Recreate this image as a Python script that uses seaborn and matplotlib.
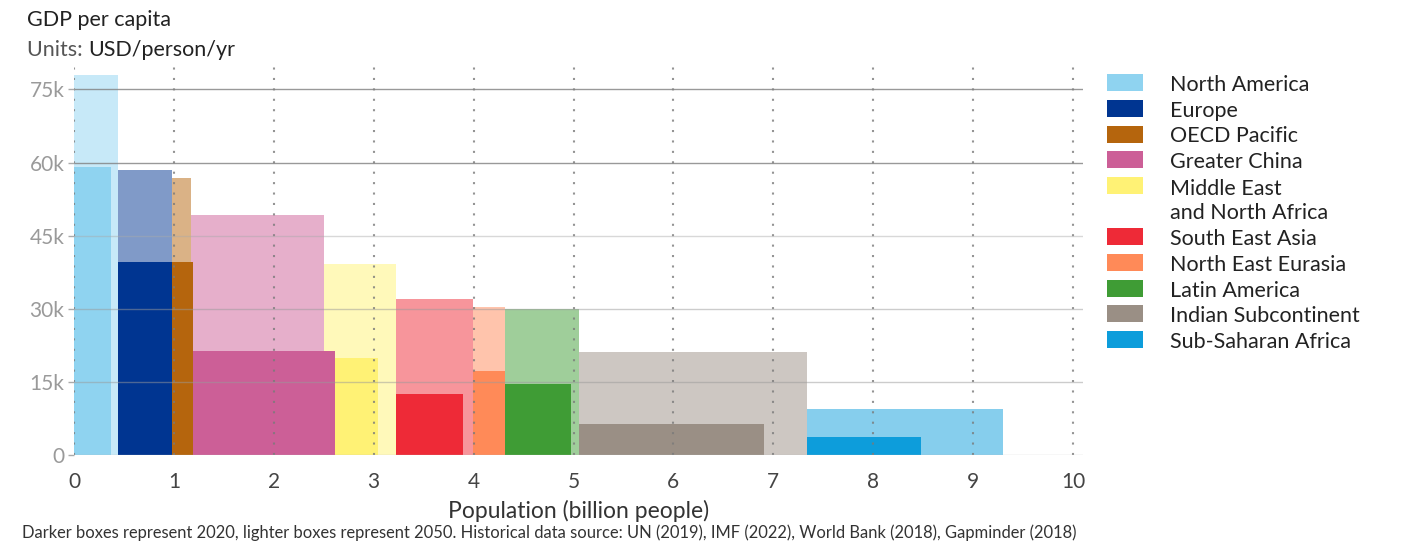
import numpy as np
import pandas as pd
import matplotlib
matplotlib.use("Agg")
import matplotlib.pyplot as plt
import seaborn as sns
from matplotlib.patches import Rectangle
from matplotlib.colors import to_rgb

# ---------------- data ----------------
regions = ["North America", "Europe", "OECD Pacific", "Greater China",
           "Middle East\nand North Africa", "South East Asia", "North East Eurasia",
           "Latin America", "Indian Subcontinent", "Sub-Saharan Africa"]
pop_2020 = [0.37, 0.545, 0.21, 1.44, 0.54, 0.67, 0.32, 0.66, 1.85, 1.14]      # billion people
pop_2050 = [0.44, 0.54, 0.19, 1.33, 0.72, 0.77, 0.32, 0.75, 2.28, 1.96]
gdp_2020 = [59.0, 39.6, 39.6, 21.4, 19.8, 12.6, 17.3, 14.5, 6.35, 3.6]         # kUSD/person/yr
gdp_2050 = [77.9, 58.4, 56.9, 49.3, 39.1, 32.1, 30.3, 29.9, 21.2, 9.4]
colors = ["#8FD3F0", "#003591", "#B5650D", "#CC5F97", "#FFF275",
          "#EE2A37", "#FF8A58", "#3F9C35", "#9A8F85", "#0D9DDB"]
yticks = [0, 15, 30, 45, 60, 75]
ytick_labels = ["0", "15k", "30k", "45k", "60k", "75k"]
xticks = list(range(0, 11))

def lighten(c, a=0.5):
    r, g, b = to_rgb(c)
    return (1 - a + a * r, 1 - a + a * g, 1 - a + a * b)

starts = np.concatenate([[0], np.cumsum(pop_2050)[:-1]])

# ---------------- figure ----------------
sns.set_theme(style="white")
plt.rcParams["font.family"] = ["Lato", "DejaVu Sans"]

W, H = 1402, 544
fig = plt.figure(figsize=(W / 100, H / 100), dpi=100)
ax = fig.add_axes([74 / W, 1 - 455 / H, (1083 - 74) / W, (455 - 66) / H])

# 2050 (lighter) boxes
for i in range(len(regions)):
    s, w = starts[i], pop_2050[i]
    sns.histplot(x=[s + w / 2], weights=[gdp_2050[i]], bins=[s, s + w],
                 color=lighten(colors[i]), alpha=1, linewidth=0, edgecolor="none",
                 ax=ax, zorder=1)
# 2020 (darker) boxes, drawn in reverse so earlier regions sit on top
for i in reversed(range(len(regions))):
    s, w = starts[i], pop_2020[i]
    sns.histplot(x=[s + w / 2], weights=[gdp_2020[i]], bins=[s, s + w],
                 color=colors[i], alpha=1, linewidth=0, edgecolor="none",
                 ax=ax, zorder=1.5)

ax.set_xlim(0, 10.1)
ax.set_ylim(0, 79.8)
ax.set_xticks(xticks)
ax.set_xticklabels([str(t) for t in xticks], fontsize=15, color="#444444")
ax.set_yticks(yticks)
ax.set_yticklabels(ytick_labels, fontsize=15, color="#9a9a9a")
ax.tick_params(axis="y", length=4, width=1, color="#aaaaaa", pad=3, left=True)
ax.tick_params(axis="x", length=0, pad=12)
for sp in ax.spines.values():
    sp.set_visible(False)
ax.set_axisbelow(False)
ax.yaxis.grid(True, color="#8c8c8c", linewidth=1, alpha=0.55, zorder=3)
ax.xaxis.grid(True, color="#7a7a7a", linewidth=1.5, linestyle=(0, (1, 4)), alpha=0.8, zorder=3)
grid_styles = {0: ("#bbbbbb", 0.6), 15: ("#9a9a9a", 0.5), 30: ("#9a9a9a", 0.5),
               45: ("#aaaaaa", 0.45), 60: ("#808080", 0.8), 75: ("#808080", 0.8)}
for tv, gl in zip(yticks, ax.get_ygridlines()):
    c, a = grid_styles[tv]
    gl.set_color(c)
    gl.set_alpha(a)
ax.set_xlabel("Population (billion people)", fontsize=16.5, color="#333333", labelpad=6)
ax.set_ylabel("")

# titles
fig.text(27 / W, 1 - 20 / H, "GDP per capita", fontsize=15.5, color="#222222", va="center", ha="left")
t1 = fig.text(27 / W, 1 - 50 / H, "Units: ", fontsize=15.5, color="#555555", va="center", ha="left")
fig.canvas.draw()
bb = t1.get_window_extent(fig.canvas.get_renderer())
fig.text(bb.x1 / W, 1 - 50 / H, "USD/person/yr", fontsize=15.5, color="#222222", va="center", ha="left")

# legend (manual)
row_y = [84, 110, 135.5, 161, 199.5, 238, 264, 290, 315, 340.5]
for i, name in enumerate(regions):
    yc = row_y[i]
    sy = yc if "\n" not in name else 186.5
    fig.add_artist(Rectangle((1107 / W, 1 - (sy + 7) / H), 36 / W, 17 / H,
                             transform=fig.transFigure, facecolor=colors[i], edgecolor="none"))
    fig.text(1170 / W, 1 - (yc + 1) / H, name, fontsize=15.5, color="#222222",
             va="center", ha="left", linespacing=1.25)

fig.text(22 / W, 1 - 533 / H,
         "Darker boxes represent 2020, lighter boxes represent 2050. Historical data source: UN (2019), IMF (2022), World Bank (2018), Gapminder (2018)",
         fontsize=11.9, color="#333333", va="center", ha="left")

fig.savefig("out.png", dpi=100)
